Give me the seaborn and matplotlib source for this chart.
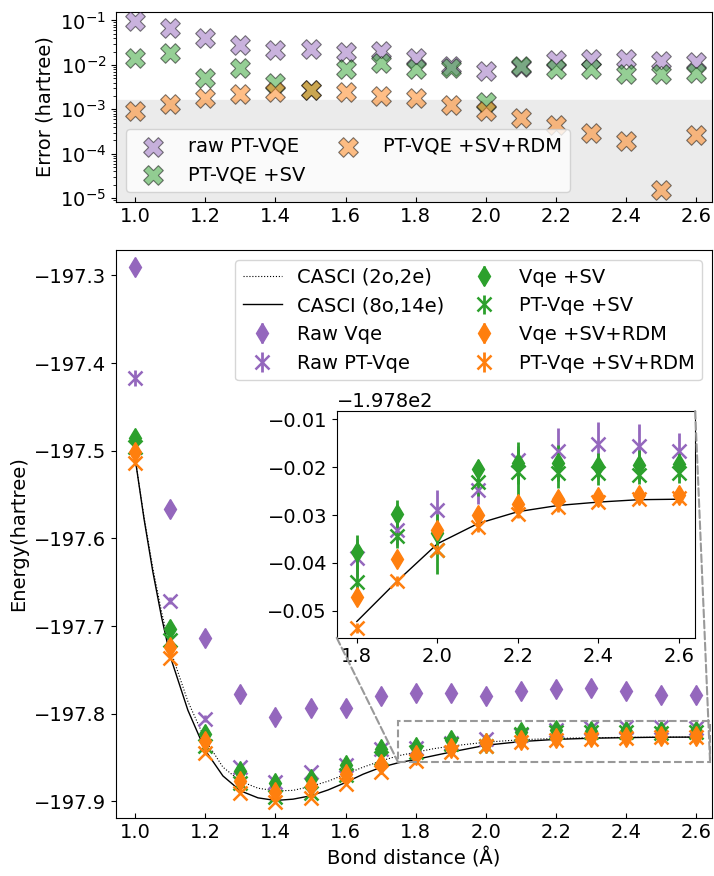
import numpy as np
import seaborn as sns
import matplotlib.pyplot as plt
from matplotlib.patches import Rectangle, ConnectionPatch
from matplotlib.ticker import LogLocator

plt.rcParams["font.size"] = 14

# bond distances (angstrom)
bond = [1.0, 1.1, 1.2, 1.3, 1.4, 1.5, 1.6, 1.7, 1.8, 1.9, 2.0, 2.1, 2.2, 2.3, 2.4, 2.5, 2.6]

# errors vs CASCI (8o,14e), hartree
err_raw_pt = [0.095, 0.067, 0.040, 0.028, 0.022, 0.023, 0.020, 0.021, 0.0146, 0.0095, 0.0073,
              0.009, 0.0127, 0.0134, 0.0134, 0.012, 0.0117]
err_pt_sv = [0.0146, 0.019, 0.0052, 0.0087, 0.0040, 0.0027, 0.0080, 0.0112, 0.0080, 0.0083, 0.00145,
             0.0095, 0.0080, 0.0080, 0.0062, 0.0062, 0.0065]
err_pt_rdm = [0.00093, 0.0013, 0.0018, 0.0022, 0.0024, 0.0027, 0.0024, 0.0020, 0.0018, 0.00126, 0.00093,
              0.00063, 0.00045, 0.0003, 0.00019, 1.5e-5, 0.00027]
chem_acc = 1.6e-3

# reference curves
casci_x = [1.0, 1.025, 1.05, 1.075, 1.1, 1.15, 1.2, 1.25, 1.3, 1.35, 1.4, 1.45, 1.5, 1.55, 1.6, 1.65,
           1.7, 1.75, 1.8, 1.85, 1.9, 2.0, 2.1, 2.2, 2.3, 2.4, 2.5, 2.6]
casci_2o2e = [-197.510, -197.576, -197.634, -197.684, -197.727, -197.786, -197.830, -197.861, -197.877,
              -197.885, -197.888, -197.8875, -197.883, -197.877, -197.869, -197.861, -197.854, -197.848,
              -197.844, -197.840, -197.837, -197.8325, -197.8297, -197.8282, -197.8274, -197.827,
              -197.8268, -197.8267]
casci_8o14e = [-197.510, -197.578, -197.638, -197.690, -197.735, -197.796, -197.842, -197.871, -197.888,
               -197.896, -197.899, -197.8975, -197.8937, -197.887, -197.8785, -197.869, -197.8613, -197.856,
               -197.8522, -197.848, -197.8438, -197.8360, -197.8318, -197.8293, -197.828, -197.8273,
               -197.8268, -197.8267]

# energies (hartree) and their uncertainties
raw_vqe = [-197.2905, -197.566, -197.714, -197.777, -197.8036, -197.7937, -197.793, -197.7797, -197.776,
           -197.7764, -197.7795, -197.7745, -197.7719, -197.7707, -197.7738, -197.7783, -197.7783]
raw_vqe_sd = [0.001] * 17
raw_pt = [-197.4167, -197.671, -197.8055, -197.8606, -197.8774, -197.867, -197.8584, -197.8403, -197.8390,
          -197.8332, -197.829, -197.8247, -197.8185, -197.8166, -197.8152, -197.8157, -197.8166]
raw_pt_sd = [0.009, 0.004, 0.004, 0.004, 0.004, 0.004, 0.004, 0.004, 0.004, 0.003, 0.0042, 0.003,
             0.003, 0.0047, 0.0047, 0.0047, 0.0037]
vqe_sv = [-197.486, -197.7034, -197.8226, -197.865, -197.8796, -197.874, -197.8587, -197.8405, -197.8377,
          -197.8298, -197.8337, -197.8205, -197.8191, -197.8192, -197.8198, -197.8196, -197.8194]
vqe_sv_sd = [0.003, 0.003, 0.003, 0.003, 0.003, 0.003, 0.003, 0.003, 0.0035, 0.003, 0.004, 0.002,
             0.0044, 0.0038, 0.0027, 0.0032, 0.0026]
pt_sv = [-197.4954, -197.716, -197.8368, -197.8793, -197.895, -197.891, -197.8705, -197.850, -197.8440,
         -197.8344, -197.8373, -197.8231, -197.8210, -197.8212, -197.8213, -197.8217, -197.8213]
pt_sv_sd = [0.003, 0.003, 0.003, 0.003, 0.003, 0.003, 0.003, 0.003, 0.0035, 0.0025, 0.0049, 0.003,
            0.0048, 0.0032, 0.0024, 0.0018, 0.002]
vqe_rdm = [-197.5015, -197.7234, -197.831, -197.8766, -197.8891, -197.8823, -197.869, -197.8576, -197.8472,
           -197.8391, -197.8332, -197.8299, -197.8277, -197.8267, -197.8262, -197.8258, -197.8258]
vqe_rdm_sd = [0.001] * 17
pt_rdm = [-197.514, -197.7367, -197.8454, -197.8906, -197.9013, -197.8962, -197.8804, -197.8663, -197.8536,
          -197.8438, -197.8372, -197.8325, -197.8297, -197.8283, -197.8272, -197.8267, -197.8265]
pt_rdm_sd = [0.001] * 17

purple, green, orange = "tab:purple", "tab:green", "tab:orange"

fig = plt.figure(figsize=(7.14, 8.76), dpi=100)
ax_err = fig.add_axes([0.1625, 0.7694, 0.8345, 0.2169])
ax = fig.add_axes([0.1625, 0.0662, 0.8345, 0.6484])
axins = fig.add_axes([0.4716, 0.272, 0.502, 0.2588])

# ---- error panel
ax_err.axhspan(1e-7, chem_acc, color="0.92", zorder=0)
for err, c, lab in [(err_raw_pt, purple, "raw PT-VQE"),
                    (err_pt_sv, green, "PT-VQE +SV"),
                    (err_pt_rdm, orange, "PT-VQE +SV+RDM")]:
    sns.scatterplot(x=bond, y=err, ax=ax_err, color=c, marker="X", s=200, alpha=0.5,
                    edgecolor="k", linewidth=0.8, label=lab, zorder=3)
ax_err.set_yscale("log")
ax_err.yaxis.set_major_locator(LogLocator(base=10, numticks=10))
ax_err.yaxis.set_minor_locator(LogLocator(base=10, subs=np.arange(2, 10), numticks=30))
ax_err.set_ylim(8.2e-6, 0.155)
ax_err.set_xlim(0.945, 2.645)
ax_err.set_ylabel("Error (hartree)")
ax_err.tick_params(axis="x", direction="in")
ax_err.legend(ncol=2, loc="lower left", columnspacing=1.2)


# ---- energy panel
def draw_energies(a, ms_d=10, ms_x=10):
    a.errorbar(bond, raw_vqe, yerr=raw_vqe_sd, fmt="d", color=purple, ms=ms_d, elinewidth=2, label="Raw Vqe")
    a.errorbar(bond, raw_pt, yerr=raw_pt_sd, fmt="x", color=purple, ms=ms_x, mew=1.8, elinewidth=2,
               label="Raw PT-Vqe")
    a.errorbar(bond, vqe_sv, yerr=vqe_sv_sd, fmt="d", color=green, ms=ms_d, elinewidth=2, label="Vqe +SV")
    a.errorbar(bond, pt_sv, yerr=pt_sv_sd, fmt="x", color=green, ms=ms_x, mew=1.8, elinewidth=2,
               label="PT-Vqe +SV")
    a.errorbar(bond, vqe_rdm, yerr=vqe_rdm_sd, fmt="d", color=orange, ms=ms_d, elinewidth=2,
               label="Vqe +SV+RDM")
    a.errorbar(bond, pt_rdm, yerr=pt_rdm_sd, fmt="x", color=orange, ms=ms_x, mew=1.8, elinewidth=2,
               label="PT-Vqe +SV+RDM")


sns.lineplot(x=casci_x, y=casci_2o2e, ax=ax, color="k", lw=0.8, linestyle=":", label="CASCI (2o,2e)")
sns.lineplot(x=casci_x, y=casci_8o14e, ax=ax, color="k", lw=1.0, label="CASCI (8o,14e)")
draw_energies(ax)
ax.set_xlim(0.945, 2.645)
ax.set_ylim(-197.919, -197.271)
ax.set_xlabel("Bond distance (Å)")
ax.set_ylabel("Energy(hartree)")
ax.tick_params(axis="x", direction="in")
ax.legend(ncol=2, loc="upper right", columnspacing=1.0)

# ---- inset
ins_x = [x for x in casci_x if x >= 1.8]
ins_y = [y for x, y in zip(casci_x, casci_8o14e) if x >= 1.8]
sns.lineplot(x=ins_x, y=ins_y, ax=axins, color="k", lw=1.0, legend=False)
draw_energies(axins)
x0, x1, y0, y1 = 1.75, 2.64, -197.8556, -197.8083
axins.set_xlim(x0, x1)
axins.set_ylim(y0, y1)
axins.set_xticks([1.8, 2.0, 2.2, 2.4, 2.6])

box_style = dict(ls="--", color="0.6", lw=1.5)
ax.add_patch(Rectangle((x0, y0), x1 - x0, y1 - y0, fill=False, ec="0.6", ls="--", lw=1.5, zorder=4))
for a_xy, b_xy in [((0, 0), (x0, y0)), ((1, 1), (x1, y0))]:
    con = ConnectionPatch(xyA=a_xy, coordsA=axins.transAxes, xyB=b_xy, coordsB=ax.transData, **box_style)
    fig.add_artist(con)

fig.savefig("out.png", dpi=100)
